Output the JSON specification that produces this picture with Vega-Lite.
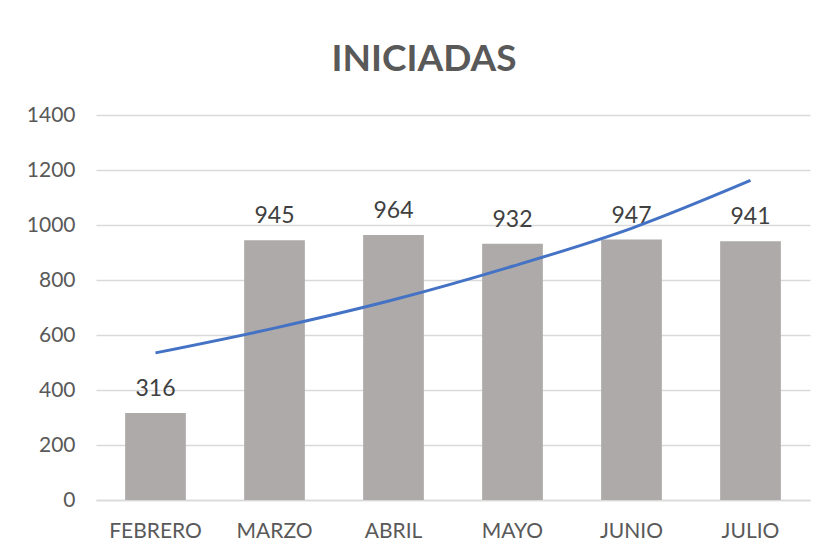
{
  "$schema": "https://vega.github.io/schema/vega-lite/v6.json",
  "width": 714,
  "height": 385,
  "autosize": {"type": "none"},
  "padding": {"left": 96, "top": 115, "right": 16, "bottom": 52},
  "background": "white",
  "title": {
    "text": "INICIADAS",
    "font": "Lato",
    "fontSize": 37,
    "fontWeight": "bold",
    "color": "#595959",
    "anchor": "middle",
    "frame": "group",
    "dx": -29,
    "offset": 25
  },
  "config": {
    "view": {"stroke": null},
    "font": "Lato"
  },
  "data": {
    "values": [
      {"mes": "FEBRERO", "valor": 316, "tendencia": 535},
      {"mes": "MARZO", "valor": 945, "tendencia": 625},
      {"mes": "ABRIL", "valor": 964, "tendencia": 728},
      {"mes": "MAYO", "valor": 932, "tendencia": 850},
      {"mes": "JUNIO", "valor": 947, "tendencia": 988},
      {"mes": "JULIO", "valor": 941, "tendencia": 1162}
    ]
  },
  "encoding": {
    "x": {
      "field": "mes",
      "type": "nominal",
      "sort": null,
      "scale": {"paddingInner": 0.49, "paddingOuter": 0.245},
      "axis": {
        "title": null,
        "labelAngle": 0,
        "labelFont": "Lato",
        "labelFontSize": 21,
        "labelColor": "#595959",
        "labelPadding": 20,
        "ticks": false,
        "domainColor": "#D9D9D9",
        "domainWidth": 1.5
      }
    }
  },
  "layer": [
    {
      "mark": {"type": "bar", "color": "#ADAAA9"},
      "encoding": {
        "y": {
          "field": "valor",
          "type": "quantitative",
          "scale": {"domain": [0, 1400], "nice": false},
          "axis": {
            "title": null,
            "format": "d",
            "values": [0, 200, 400, 600, 800, 1000, 1200, 1400],
            "labelFont": "Lato",
            "labelFontSize": 21,
            "labelColor": "#595959",
            "labelPadding": 21,
            "ticks": false,
            "domain": false,
            "gridColor": "#D9D9D9",
            "gridWidth": 1.5
          }
        }
      }
    },
    {
      "mark": {"type": "text", "baseline": "bottom", "dy": -12, "fontSize": 23, "font": "Lato", "color": "#404040"},
      "encoding": {
        "y": {"field": "valor", "type": "quantitative"},
        "text": {"field": "valor", "type": "quantitative"}
      }
    },
    {
      "mark": {"type": "line", "color": "#4472C4", "strokeWidth": 3, "interpolate": "monotone"},
      "encoding": {
        "y": {"field": "tendencia", "type": "quantitative"}
      }
    }
  ]
}
